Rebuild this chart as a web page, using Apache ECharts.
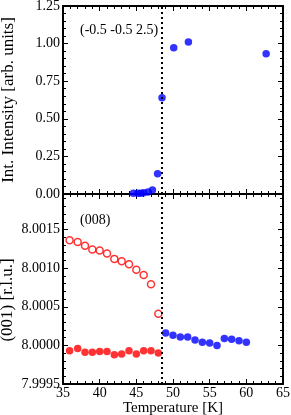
<!DOCTYPE html>
<html><head><meta charset="utf-8">
<script src="https://cdn.jsdelivr.net/npm/echarts@6/dist/echarts.min.js"></script>
<style>html,body{margin:0;padding:0;background:#fff}#c{width:291px;height:415px}</style>
</head><body><div id="c"></div>
<script>
// Top panel: integrated intensity of (-0.5 -0.5 2.5)
const intT = [44.6, 45.2, 45.6, 46.0, 46.6, 47.2, 47.9, 48.5, 50.1, 52.1, 62.7];
const intI = [0.005, 0.005, 0.005, 0.009, 0.013, 0.027, 0.135, 0.64, 0.973, 1.01, 0.933];
// Bottom panel: (001) [r.l.u.]
const openRedT = [35.9, 37.0, 38.0, 39.0, 40.0, 41.0, 42.0, 43.0, 44.0, 45.0, 46.0, 47.0, 48.0];
const openRedV = [8.00136, 8.00134, 8.00129, 8.00124, 8.00123, 8.00119, 8.00112, 8.00109, 8.00105, 8.00098, 8.00091, 8.00079, 8.00041];
const fillRedT = [35.9, 37.0, 38.0, 39.0, 40.0, 41.0, 42.0, 43.0, 44.0, 45.0, 46.0, 47.0, 48.0];
const fillRedV = [7.99993, 7.99996, 7.99991, 7.99991, 7.99992, 7.99992, 7.99988, 7.99989, 7.99993, 7.99989, 7.99993, 7.99993, 7.99990];
const blueT = [49.0, 50.0, 51.0, 52.0, 53.0, 54.0, 55.0, 56.0, 57.0, 58.0, 59.0, 60.0];
const blueV = [8.00016, 8.00013, 8.00011, 8.00011, 8.00007, 8.00004, 8.00003, 8.00000, 8.00009, 8.00008, 8.00006, 8.00004];
const transitionT = 48.5;
const xTicks = [35, 40, 45, 50, 55, 60, 65];
const topLabel = '(-0.5 -0.5 2.5)';
const bottomLabel = '(008)';
const topYName = 'Int. Intensity [arb. units]';
const bottomYName = '(001) [r.l.u.]';

const FONT = 'Liberation Serif';
const chart = echarts.init(document.getElementById('c'));
const axLine = {show: true, onZero: false, lineStyle: {color: '#000', width: 2}};
const tick = {show: true, inside: true, length: 5, lineStyle: {color: '#000', width: 1}};
const minor = {show: true, splitNumber: 5, length: 3, lineStyle: {color: '#000', width: 1}};
function xa(grid, pos, labels) {
  return {type: 'value', gridIndex: grid, position: pos, min: xTicks[0], max: xTicks[xTicks.length - 1], interval: 5,
    axisLine: axLine, axisTick: tick, minorTick: minor, splitLine: {show: false},
    axisLabel: {show: labels, color: '#000', fontFamily: FONT, fontSize: 14, margin: 2},
    name: labels ? 'Temperature [K]' : '', nameLocation: 'middle', nameGap: 13,
    nameTextStyle: {color: '#000', fontFamily: FONT, fontSize: 15}};
}
function ya(grid, pos, labels, min, max, interval, dec) {
  return {type: 'value', gridIndex: grid, position: pos, min: min, max: max, interval: interval,
    axisLine: axLine, axisTick: tick, minorTick: minor, splitLine: {show: false},
    axisLabel: {show: labels, color: '#000', fontFamily: FONT, fontSize: 14, margin: 3, showMaxLabel: grid === 0,
      formatter: v => v.toFixed(dec)}};
}
const mark = {silent: true, symbol: 'none', label: {show: false},
  lineStyle: {color: '#000', type: [2, 3], width: 2}, data: [{xAxis: transitionT}]};
const pair = (xs, ys) => xs.map((x, i) => [x, ys[i]]);
chart.setOption({
  animation: false,
  grid: [
    {left: 63, top: 6, width: 220, height: 188, outerBoundsMode: 'none', containLabel: false},
    {left: 63, top: 194, width: 220, height: 190, outerBoundsMode: 'none', containLabel: false}
  ],
  xAxis: [xa(0, 'bottom', false), xa(0, 'top', false), xa(1, 'bottom', true), xa(1, 'top', false)],
  yAxis: [
    ya(0, 'left', true, 0, 1.25, 0.25, 2),
    ya(0, 'right', false, 0, 1.25, 0.25, 2),
    ya(1, 'left', true, 7.9995, 8.00196, 0.0005, 4),
    ya(1, 'right', false, 7.9995, 8.00196, 0.0005, 4)
  ],
  series: [
    {type: 'scatter', xAxisIndex: 0, yAxisIndex: 0, data: pair(intT, intI), symbolSize: 7.5,
      itemStyle: {color: '#0000ff'}, markLine: mark},
    {type: 'scatter', xAxisIndex: 2, yAxisIndex: 2, data: pair(openRedT, openRedV), symbolSize: 7,
      itemStyle: {color: '#fff', borderColor: '#ff0000', borderWidth: 1.5}, markLine: mark},
    {type: 'scatter', xAxisIndex: 2, yAxisIndex: 2, data: pair(fillRedT, fillRedV), symbolSize: 7.5,
      itemStyle: {color: '#ff0000'}},
    {type: 'scatter', xAxisIndex: 2, yAxisIndex: 2, data: pair(blueT, blueV), symbolSize: 7.5,
      itemStyle: {color: '#0000ff'}}
  ],
  graphic: [
    {type: 'text', left: 80, top: 23, style: {text: topLabel, fill: '#000', font: '14px "Liberation Serif"'}},
    {type: 'text', left: 80, top: 213, style: {text: bottomLabel, fill: '#000', font: '14px "Liberation Serif"'}},
    {type: 'text', x: 9, y: 100, rotation: Math.PI / 2,
      style: {text: topYName, fill: '#000', font: '17px "Liberation Serif"', align: 'center', verticalAlign: 'middle'}},
    {type: 'text', x: 8, y: 300, rotation: Math.PI / 2,
      style: {text: bottomYName, fill: '#000', font: '17px "Liberation Serif"', align: 'center', verticalAlign: 'middle'}}
  ]
});
</script></body></html>
